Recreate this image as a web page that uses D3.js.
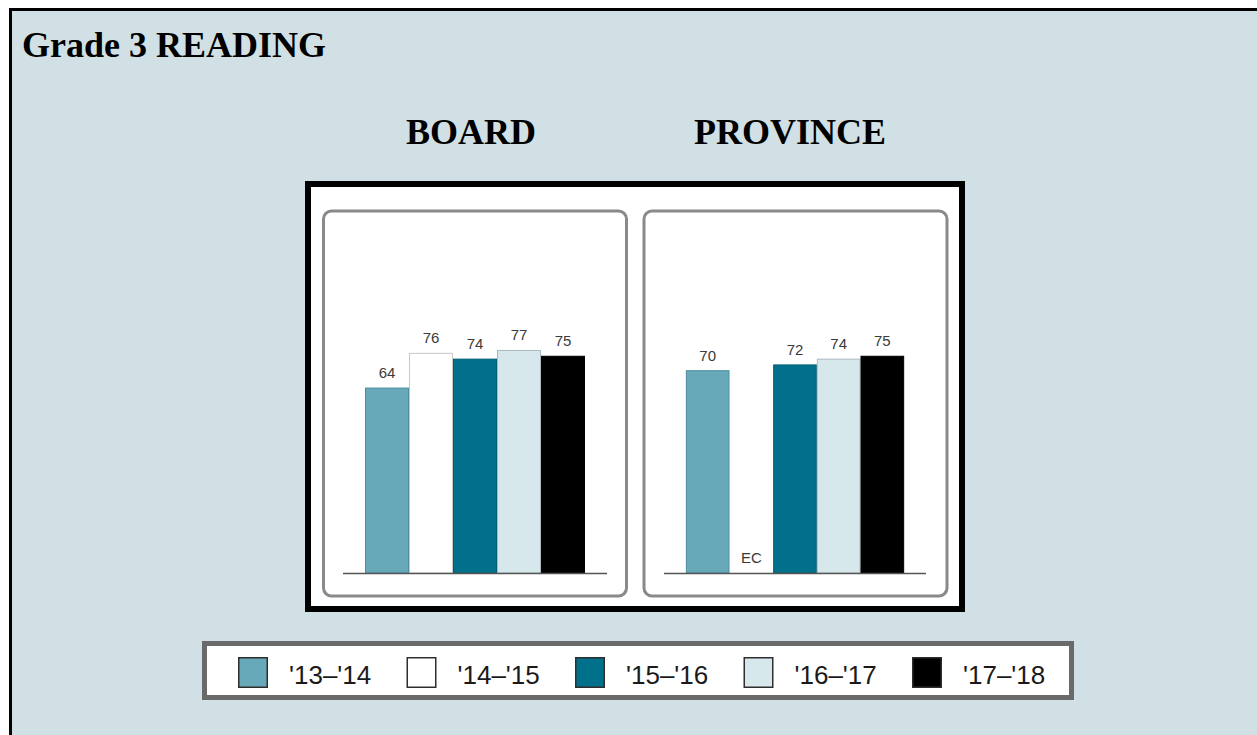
<!DOCTYPE html>
<html>
<head>
<meta charset="utf-8">
<script src="https://cdn.jsdelivr.net/npm/d3@7"></script>
<style>
  html, body { margin: 0; padding: 0; background: #ffffff; }
  svg { display: block; }
</style>
</head>
<body>
<svg id="chart" width="1257" height="735"></svg>
<script>
// ---- data ----
const chartTitle = "Grade 3 READING";
const panels = ["BOARD", "PROVINCE"];
const years = ["'13–'14", "'14–'15", "'15–'16", "'16–'17", "'17–'18"];
const boardValues = [64, 76, 74, 77, 75];
const provinceValues = [70, null, 72, 74, 75]; // null = EC
const missingLabel = "EC";
const yTicks = [0, 100];

// ---- styles ----
const fills = ["#67a9b9", "#ffffff", "#00708b", "#d7e8ed", "#000000"];
const strokes = ["#4d8e9e", "#c8c8c8", "#005e75", "#a9b9bd", "#000000"];

const svg = d3.select("#chart");

// page background panel with black border
svg.append("rect")
  .attr("x", 10.5).attr("y", 9.5)
  .attr("width", 1300).attr("height", 800)
  .attr("fill", "#d1e0e5")
  .attr("stroke", "#000").attr("stroke-width", 3);

svg.append("text")
  .attr("x", 22).attr("y", 57)
  .attr("font-family", "'Liberation Serif','Times New Roman',serif")
  .attr("font-weight", "bold").attr("font-size", 36)
  .attr("fill", "#000")
  .text(chartTitle);

// panel headings
const headingX = [471, 790];
svg.selectAll("text.heading").data(panels).join("text")
  .attr("class", "heading")
  .attr("x", (d, i) => headingX[i]).attr("y", 144)
  .attr("text-anchor", "middle")
  .attr("font-family", "'Liberation Serif','Times New Roman',serif")
  .attr("font-weight", "bold").attr("font-size", 36)
  .attr("fill", "#000")
  .text(d => d);

// black frame
svg.append("rect")
  .attr("x", 308).attr("y", 184)
  .attr("width", 654).attr("height", 425)
  .attr("fill", "#fff")
  .attr("stroke", "#000").attr("stroke-width", 6);

// y scale shared
const y = d3.scaleLinear().domain([yTicks[0], yTicks[1]]).range([573, 284]);

const panelDefs = [
  { name: panels[0], values: boardValues, box: [323.5, 211, 303, 385], range: [343, 607] },
  { name: panels[1], values: provinceValues, box: [644, 211, 303, 385], range: [664, 926] }
];

panelDefs.forEach(p => {
  const g = svg.append("g");
  g.append("rect")
    .attr("x", p.box[0]).attr("y", p.box[1])
    .attr("width", p.box[2]).attr("height", p.box[3])
    .attr("rx", 8).attr("ry", 8)
    .attr("fill", "#fff")
    .attr("stroke", "#8a8a8a").attr("stroke-width", 3);

  const x = d3.scaleBand().domain(years).range(p.range)
    .paddingInner(0).paddingOuter(0.5);

  const data = years.map((yr, i) => ({ yr, i, v: p.values[i] }));

  g.selectAll("rect.bar").data(data.filter(d => d.v != null)).join("rect")
    .attr("class", "bar")
    .attr("x", d => x(d.yr) + 0.5)
    .attr("y", d => y(d.v))
    .attr("width", x.bandwidth() - 1)
    .attr("height", d => y(0) - y(d.v))
    .attr("fill", d => fills[d.i])
    .attr("stroke", d => strokes[d.i])
    .attr("stroke-width", 1);

  g.selectAll("text.val").data(data).join("text")
    .attr("class", "val")
    .attr("x", d => x(d.yr) + x.bandwidth() / 2)
    .attr("y", d => (d.v != null ? y(d.v) : y(0)) - 10)
    .attr("text-anchor", "middle")
    .attr("font-family", "'Liberation Sans',Arial,sans-serif")
    .attr("font-size", 15)
    .attr("fill", "#3a3a3a")
    .text(d => d.v != null ? d.v : missingLabel);

  // baseline
  g.append("line")
    .attr("x1", p.range[0]).attr("x2", p.range[1])
    .attr("y1", y(0) + 0.5).attr("y2", y(0) + 0.5)
    .attr("stroke", "#555").attr("stroke-width", 1.5);
});

// legend
const lg = svg.append("g");
lg.append("rect")
  .attr("x", 204.5).attr("y", 643.5)
  .attr("width", 867).attr("height", 54)
  .attr("fill", "#fff")
  .attr("stroke", "#6a6a6a").attr("stroke-width", 5);

const lx = d3.scalePoint().domain(years).range([238, 912]);
const items = lg.selectAll("g.item").data(years).join("g")
  .attr("class", "item")
  .attr("transform", d => `translate(${lx(d)},0)`);
items.append("rect")
  .attr("x", 0.75).attr("y", 657.75)
  .attr("width", 28.5).attr("height", 29.5)
  .attr("fill", (d, i) => fills[i])
  .attr("stroke", "#2e2e2e").attr("stroke-width", 1.5);
items.append("text")
  .attr("x", 51).attr("y", 684)
  .attr("font-family", "'Liberation Sans',Arial,sans-serif")
  .attr("font-size", 26)
  .attr("fill", "#1a1a1a")
  .text(d => d);
</script>
</body>
</html>
